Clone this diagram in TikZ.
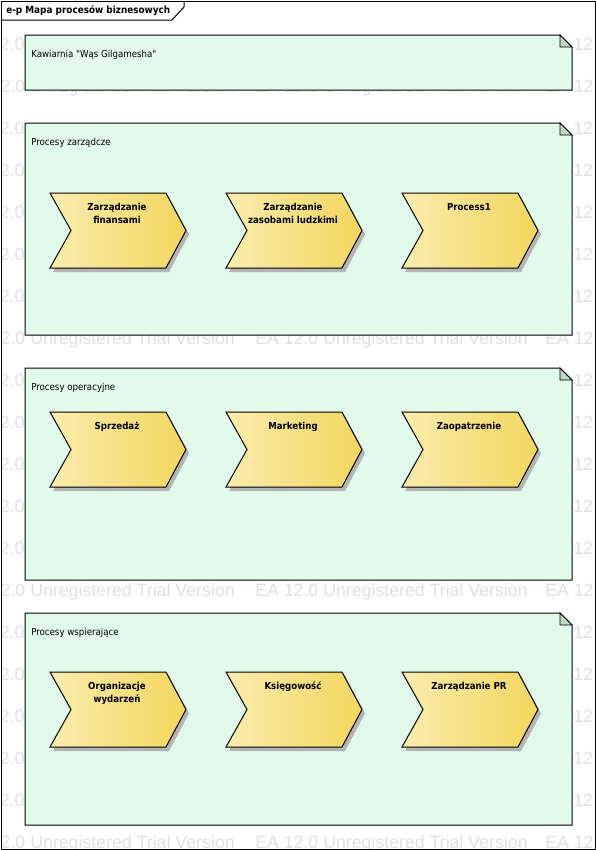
\documentclass[tikz,border=0pt]{standalone}
\usepackage{fontspec}
\newfontfamily\uifont{DejaVu Sans Condensed}
\newfontfamily\wmfont{Liberation Sans}
\definecolor{notegreen}{RGB}{226,250,234}
\definecolor{notefold}{RGB}{192,216,202}
\definecolor{chevL}{RGB}{250,236,172}
\definecolor{chevR}{RGB}{242,214,94}
\definecolor{shadowgray}{RGB}{180,180,180}
\definecolor{wmgray}{RGB}{224,224,224}
\tikzset{
  frameline/.style={draw=black,line width=0.75pt},
  notebox/.style={draw=black,line width=0.75pt,fill=notegreen},
  notefoldst/.style={draw=black,line width=0.6pt,fill=notefold},
  notelabel/.style={anchor=west,inner sep=0pt,font=\uifont\fontsize{7.2}{9}\selectfont},
  chevshape/.style={draw=black,line width=0.75pt,left color=chevL,right color=chevR},
  chevshadow/.style={fill=shadowgray},
  chevtext/.style={anchor=north,inner sep=0pt,align=center,font=\uifont\bfseries\fontsize{7.2}{9.75}\selectfont},
  wmtext/.style={anchor=base west,inner sep=0pt,text=wmgray,font=\wmfont\fontsize{13.3}{14}\selectfont},
  titletext/.style={anchor=west,inner sep=0pt,font=\uifont\bfseries\fontsize{7.4}{9}\selectfont}
}
% \mknote{name}{left}{top}{right}{bottom}
\newcommand\mknote[5]{%
  \path[notebox] (#2,#3) -- (#4-12,#3) -- (#4,#3+12) -- (#4,#5) -- (#2,#5) -- cycle;
  \path[notefoldst] (#4-12,#3) -- (#4-12,#3+12) -- (#4,#3+12) -- cycle;
  \coordinate (#1) at (#2,#3);
}
% \mkchev{name}{x}{y}{text}
\newcommand\mkchev[4]{%
  \fill[chevshadow] (#2+3,#3+4) -- ++(116,0) -- ++(20,37.5) -- ++(-20,37.5) -- ++(-116,0) -- ++(21,-37.5) -- cycle;
  \shadedraw[chevshape] (#2,#3) -- ++(116,0) -- ++(20,37.5) -- ++(-20,37.5) -- ++(-116,0) -- ++(21,-37.5) -- cycle;
  \node[chevtext] (#1) at (#2+67,#3+10) {#4};
}
\begin{document}
\begin{tikzpicture}[x=0.75pt,y=-0.75pt]
\useasboundingbox (0,0) rectangle (596,850);
\fill[white] (0,0) rectangle (596,850);
% watermark
\begin{scope}
\clip (0,0) rectangle (596,850);
% rows left visible between the boxes
\foreach \k in {1,7,13,19}{
  \foreach \xx in {-38,255,545}{
    \node[wmtext] at (\xx,50+42*\k) {EA 12.0 Unregistered Trial Version};
  }
}
% rows hidden by the boxes: only the margins show
\foreach \k in {0,2,3,4,5,6,8,9,10,11,12,14,15,16,17,18}{
  \node[wmtext] at (-0.5,50+42*\k) {2.0};
  \node[wmtext] at (573,50+42*\k) {12};
}
\end{scope}
% outer frame
\draw[frameline] (1,1) rectangle (595,849);
\draw[frameline] (1,20) -- (172,20) -- (184,7) -- (184,1);
\node[titletext] (title) at (6,11) {e-p Mapa procesów biznesowych};
% notes
\mknote{n1}{25}{35}{572}{90}
\node[notelabel] (l1) at (31,55) {Kawiarnia "Wąs Gilgamesha"};
\mknote{n2}{25}{123}{572}{335}
\node[notelabel] (l2) at (31,143) {Procesy zarządcze};
\mknote{n3}{25}{368}{572}{580}
\node[notelabel] (l3) at (31,388) {Procesy operacyjne};
\mknote{n4}{25}{613}{572}{825}
\node[notelabel] (l4) at (31,633) {Procesy wspierające};
% chevrons
\mkchev{c11}{50}{193}{Zarządzanie\\finansami}
\mkchev{c12}{226}{193}{Zarządzanie\\zasobami ludzkimi}
\mkchev{c13}{402}{193}{Process1}
\mkchev{c21}{50}{412}{Sprzedaż}
\mkchev{c22}{226}{412}{Marketing}
\mkchev{c23}{402}{412}{Zaopatrzenie}
\mkchev{c31}{50}{672}{Organizacje\\wydarzeń}
\mkchev{c32}{226}{672}{Księgowość}
\mkchev{c33}{402}{672}{Zarządzanie PR}
\end{tikzpicture}
\end{document}
